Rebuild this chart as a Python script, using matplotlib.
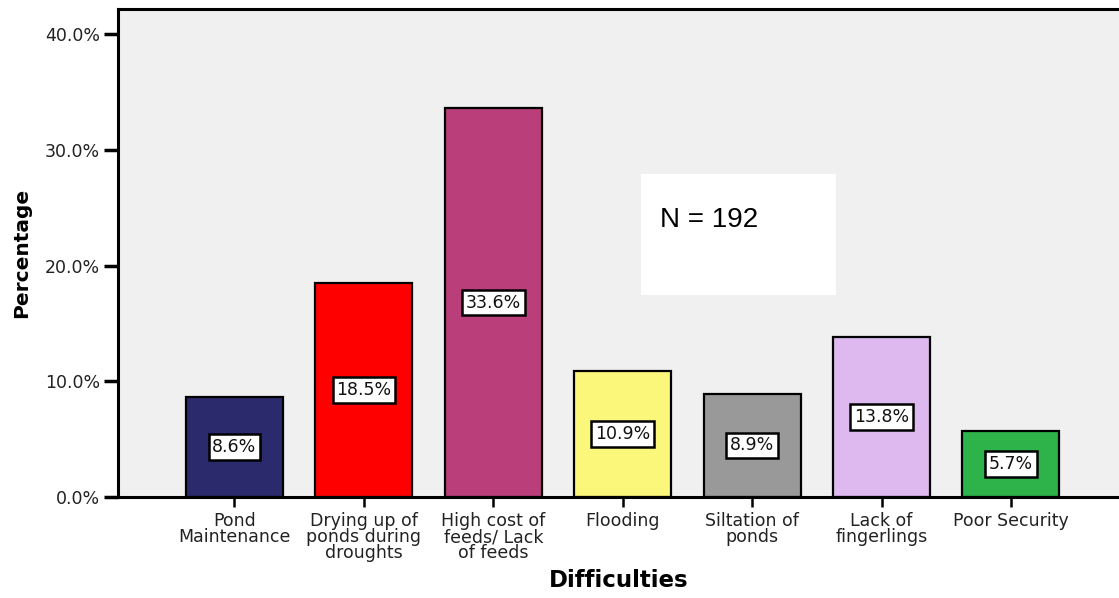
import numpy as np
import matplotlib.pyplot as plt
from matplotlib.patches import Rectangle

# survey results: main difficulties reported by fish farmers
categories = ["Pond\nMaintenance", "Drying up of\nponds during\ndroughts",
              "High cost of\nfeeds/ Lack\nof feeds", "Flooding",
              "Siltation of\nponds", "Lack of\nfingerlings", "Poor Security"]
percentages = [8.6, 18.5, 33.6, 10.9, 8.9, 13.8, 5.7]
bar_colors = ["#2b2a6c", "#ff0000", "#b93e7a", "#fbf77a",
              "#999999", "#ddb9f0", "#2db34a"]
y_ticks = [0, 10, 20, 30, 40]
sample_size = 192

plt.rcParams["font.family"] = ["DejaVu Sans"]

fig = plt.figure(figsize=(11.19, 5.98), dpi=100)
ax = fig.add_axes([118/1119, 101/598, 1001/1119, 488/598])
ax.set_facecolor("#f0f0f0")

x = np.arange(len(categories))
ax.bar(x, percentages, width=0.75, color=bar_colors,
       edgecolor="black", linewidth=1.6, zorder=2)

# value labels in the middle of each bar
for xi, p in zip(x, percentages):
    ax.text(xi, p / 2, f"{p:.1f}%", ha="center", va="center",
            fontsize=12.5, color="#111111", zorder=3,
            bbox=dict(boxstyle="square,pad=0.22", fc="white",
                      ec="black", lw=1.8))

ax.set_xlim(-0.9, 6.835)
ax.set_ylim(0, 42.16)

ax.set_yticks(y_ticks)
ax.set_yticklabels([f"{v:.1f}%" for v in y_ticks])
ax.set_xticks(x)
ax.set_xticklabels(categories, linespacing=0.85)

ax.tick_params(axis="y", direction="out", length=10, width=2.5,
               labelsize=12.5, labelcolor="#222222", pad=3)
ax.tick_params(axis="x", direction="out", length=7, width=1.8,
               labelsize=12.5, labelcolor="#222222", pad=4)

for side in ["left", "bottom", "top"]:
    ax.spines[side].set_linewidth(2.2)
    ax.spines[side].set_color("black")
ax.spines["right"].set_visible(False)

ax.set_ylabel("Percentage", fontsize=14.5, fontweight="bold", labelpad=10)
ax.set_xlabel("Difficulties", fontsize=16.5, fontweight="bold", labelpad=5)

# sample size note
ax.add_patch(Rectangle((0.5225, 0.414), 0.1948, 0.248, transform=ax.transAxes,
                       facecolor="white", edgecolor="none", zorder=4))
ax.text(0.541, 0.5676, f"N = {sample_size}", transform=ax.transAxes,
        ha="left", va="center", fontsize=20, zorder=5,
        family=["Liberation Sans", "DejaVu Sans"])

fig.savefig("out.png", dpi=100)
